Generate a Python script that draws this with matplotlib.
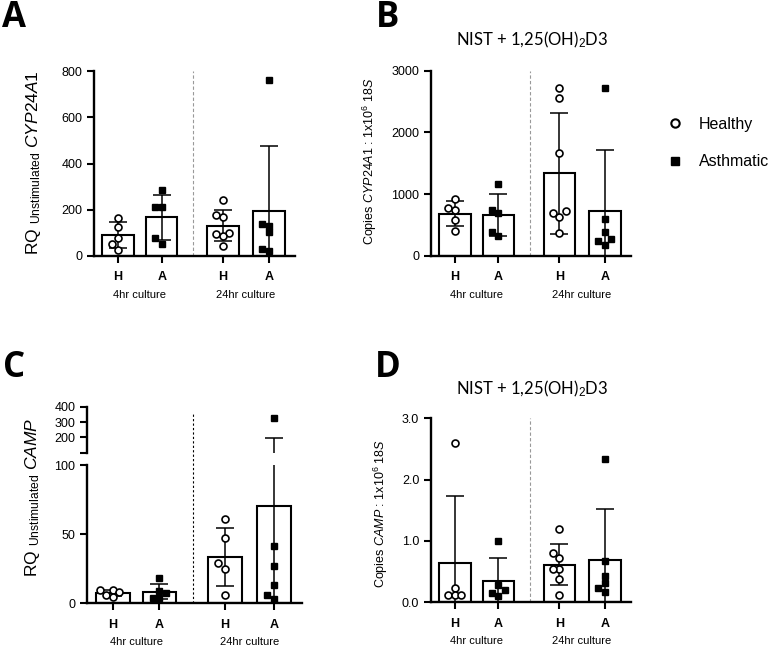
import numpy as np
import matplotlib.pyplot as plt
from matplotlib.lines import Line2D

plt.rcParams['font.family'] = 'Liberation Sans'
plt.rcParams['mathtext.fontset'] = 'custom'
plt.rcParams['mathtext.rm'] = 'Liberation Sans'
plt.rcParams['mathtext.it'] = 'Liberation Sans:italic'
plt.rcParams['mathtext.bf'] = 'Liberation Sans:bold'

# group labels
groups = ['H', 'A', 'H', 'A']
cultures = ['4hr culture', '24hr culture']
legend_labels = ['Healthy', 'Asthmatic']
title_text = 'NIST + 1,25(OH)$_2$D3'

# panel A: RQ unstimulated CYP24A1 (H4, A4, H24, A24)
a_h4 = [165, 125, 80, 50, 28]
a_a4 = [285, 210, 210, 78, 50]
a_h24 = [242, 179, 170, 98, 95, 88, 45]
a_a24 = [761, 137, 131, 102, 29, 20]

# panel B: copies CYP24A1
b_h4 = [924, 768, 740, 578, 405]
b_a4 = [1162, 740, 686, 384, 324]
b_h24 = [2724, 2557, 1670, 719, 686, 632, 373]
b_a24 = [2713, 589, 384, 276, 243, 173]

# panel C: RQ unstimulated CAMP
c_h4 = [9.6, 9.4, 8.0, 6.0, 4.5]
c_a4 = [18, 9, 7.5, 4, 4]
c_h24 = [61, 47, 29, 25, 6]
c_a24 = [329, 41.6, 27, 13, 6.2, 3.3]

# panel D: copies CAMP
d_h4 = [2.6, 0.23, 0.12, 0.12, 0.12]
d_a4 = [1.0, 0.29, 0.2, 0.15, 0.11]
d_h24 = [1.19, 0.8, 0.72, 0.55, 0.55, 0.38, 0.12]
d_a24 = [2.33, 0.68, 0.43, 0.32, 0.23, 0.16]

W, H = 782, 648
pos = np.array([0, 1, 2.4, 3.45])
sep = 1.72


def rect(x0, x1, ytop, ybot):
    return [x0 / W, 1 - ybot / H, (x1 - x0) / W, (ybot - ytop) / H]


def swarm(vals, pxu, pxx, size=6.5):
    # simple beeswarm offsets so points do not overlap too much
    vals = np.asarray(vals, float)
    xs = np.zeros(len(vals))
    placed = []
    for i in np.argsort(vals):
        y = vals[i] * pxu
        for k in [0, -1, 1, -2, 2, -3, 3]:
            x = k * size
            if all((x - px) ** 2 + (y - py) ** 2 >= size ** 2 for px, py in placed):
                break
        placed.append((x, y))
        xs[i] = x / pxx
    return xs


def draw(ax, data, pxu, pxx=44):
    for i, vals in enumerate(data):
        m = np.mean(vals)
        s = np.std(vals, ddof=1)
        ax.bar(pos[i], m, width=0.72, color='white', edgecolor='black', linewidth=1.5, zorder=2)
        ax.errorbar(pos[i], m, yerr=s, color='black', lw=1.1, capsize=6.5, capthick=1.1, zorder=3)
        xo = swarm(vals, pxu, pxx)
        if i % 2 == 0:
            ax.plot(pos[i] + xo, vals, ls='none', marker='o', ms=5, mfc='white', mec='black', mew=1.2, zorder=4)
        else:
            ax.plot(pos[i] + xo, vals, ls='none', marker='s', ms=4.5, mfc='black', mec='black', zorder=4)


def style(ax, ylim, yticks, fmt=None, sepcolor='#999999', sepls=(0, (3, 2))):
    ax.set_facecolor('none')
    for sp in ['top', 'right']:
        ax.spines[sp].set_visible(False)
    for sp in ['left', 'bottom']:
        ax.spines[sp].set_linewidth(1.7)
    ax.set_xlim(-0.55, 4.05)
    ax.set_ylim(ylim)
    ax.set_yticks(yticks)
    if fmt:
        ax.set_yticklabels([fmt % t for t in yticks])
    ax.set_xticks(pos)
    ax.set_xticklabels(groups, fontweight='bold', fontsize=10)
    ax.tick_params(axis='both', width=1.5, length=5, labelsize=9)
    ax.tick_params(axis='x', pad=6)
    ax.axvline(sep, color=sepcolor, lw=0.8, ls=sepls, zorder=1)
    for j, c in enumerate(cultures):
        ax.annotate(c, xy=((pos[2 * j] + pos[2 * j + 1]) / 2, 0), xycoords=('data', 'axes fraction'),
                    xytext=(0, -39), textcoords='offset pixels', ha='center', va='center', fontsize=8)


fig = plt.figure(figsize=(W / 100, H / 100), dpi=100)

# panel A
axA = fig.add_axes(rect(94, 295, 71, 256))
draw(axA, [a_h4, a_a4, a_h24, a_a24], 185 / 800)
style(axA, (0, 800), [0, 200, 400, 600, 800])

# panel B
axB = fig.add_axes(rect(431, 631, 70.7, 255.7))
draw(axB, [b_h4, b_a4, b_h24, b_a24], 185 / 3000)
style(axB, (0, 3000), [0, 1000, 2000, 3000])

# panel C, broken y axis
axC = fig.add_axes(rect(87, 302, 465, 603.3))
axCu = fig.add_axes(rect(87, 302, 406.7, 452.7))
c_data = [c_h4, c_a4, c_h24, c_a24]
draw(axC, c_data, 138.3 / 100, 46.7)
draw(axCu, c_data, 138.3 / 100, 46.7)
style(axC, (0, 100), [0, 50, 100], sepcolor='black', sepls=(0, (2, 2)))
axC.lines[-1].set_clip_on(False)
axC.lines[-1].set_ydata([0, (603.3 - 413) / 138.3])
axCu.set_facecolor('none')
axCu.set_xlim(-0.55, 4.05)
axCu.set_ylim(100, 400)
axCu.set_yticks([100, 200, 300, 400])
axCu.set_yticklabels(['', '200', '300', '400'])
axCu.tick_params(axis='y', width=1.5, length=5, labelsize=9)
axCu.set_xticks([])
for sp in ['top', 'right', 'bottom']:
    axCu.spines[sp].set_visible(False)
axCu.spines['left'].set_linewidth(1.7)

# panel D
axD = fig.add_axes(rect(431, 631, 418.3, 602.3))
draw(axD, [d_h4, d_a4, d_h24, d_a24], 184 / 3)
style(axD, (0, 3), [0, 1, 2, 3], fmt='%.1f')

# y labels
fig.text(34 / W, 1 - 163 / H, r'RQ $_{\mathrm{Unstimulated}}$ $\mathit{CYP24A1}$', rotation=90,
         ha='center', va='center', fontsize=12.5)
fig.text(370 / W, 1 - 161 / H, r'Copies $\mathit{CYP24A1}$ : 1x10$^6$ $\mathit{18S}$', rotation=90,
         ha='center', va='center', fontsize=9)
fig.text(33 / W, 1 - 497 / H, r'RQ $_{\mathrm{Unstimulated}}$ $\mathit{CAMP}$', rotation=90,
         ha='center', va='center', fontsize=12.5)
fig.text(381 / W, 1 - 514 / H, r'Copies $\mathit{CAMP}$ : 1x10$^6$ $\mathit{18S}$', rotation=90,
         ha='center', va='center', fontsize=9)

# titles
for yt in [40, 389]:
    fig.text(532 / W, 1 - yt / H, title_text, ha='center', va='center', fontsize=12, family='Lato')

# panel letters
for letter, x, y in [('A', 14, 18), ('B', 388, 18), ('C', 14, 368), ('D', 388, 368)]:
    fig.text(x / W, 1 - y / H, letter, ha='center', va='center', fontsize=25,
             fontweight='bold', family='Open Sans')

# legend
handles = [Line2D([], [], ls='none', marker='o', ms=6, mfc='white', mec='black', mew=1.5),
           Line2D([], [], ls='none', marker='s', ms=5.5, mfc='black', mec='black')]
fig.legend(handles, legend_labels, loc='upper left', bbox_to_anchor=(667 / W, 1 - 117 / H),
           frameon=False, fontsize=11.5, handlelength=1.0, handletextpad=1.0,
           labelspacing=1.4, borderpad=0, borderaxespad=0)

fig.savefig('out.png', dpi=100)
